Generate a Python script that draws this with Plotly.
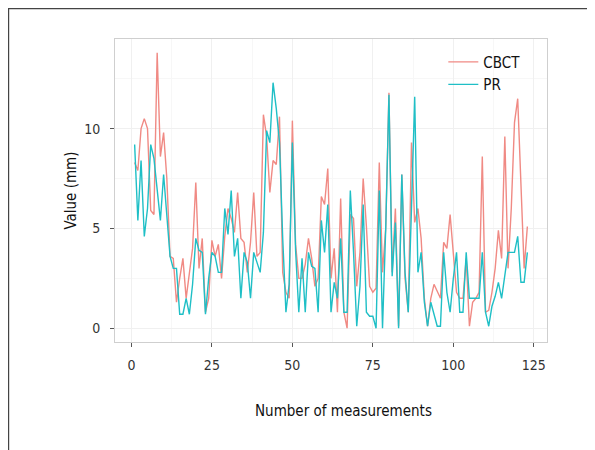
import plotly.graph_objects as go

measurement = list(range(1, 124))

cbct = [8.3, 7.9, 10.0, 10.5, 10.0, 5.9, 5.7, 13.8, 8.6, 9.8,
        7.5, 3.6, 3.5, 1.3, 2.5, 3.5, 1.5, 2.8, 4.0, 7.3,
        3.0, 4.5, 0.8, 1.5, 4.4, 3.6, 4.2, 2.5, 4.6, 6.0,
        5.5, 4.8, 6.8, 4.5, 4.3, 2.8, 4.3, 6.8, 3.6, 3.8,
        10.7, 9.6, 6.8, 8.4, 8.2, 10.6, 2.8, 1.8, 1.5, 10.4,
        4.2, 2.5, 2.5, 3.2, 4.5, 3.5, 2.1, 2.5, 6.6, 6.2,
        8.0, 2.5, 4.0, 0.8, 6.5, 0.8, 0.0, 5.7, 5.5, 2.1,
        3.8, 7.5, 5.1, 2.1, 1.8, 2.0, 8.3, 2.8, 5.0, 11.8,
        2.8, 6.0, 0.1, 7.7, 2.5, 0.8, 9.3, 5.3, 6.0, 4.5,
        1.5, 0.1, 1.5, 2.2, 1.8, 1.5, 4.3, 4.0, 5.7, 3.5,
        1.8, 1.5, 1.5, 3.5, 0.1, 1.3, 1.5, 1.8, 8.6, 0.8,
        0.9, 1.8, 3.0, 4.9, 3.5, 9.6, 3.0, 6.0, 10.3, 11.5,
        7.0, 3.0, 5.1]

pr = [9.2, 5.4, 8.4, 4.6, 6.0, 9.2, 8.5, 7.0, 5.4, 7.7,
      5.8, 3.6, 3.0, 3.0, 0.7, 0.7, 1.5, 0.7, 2.2, 4.5,
      3.9, 3.8, 0.7, 2.5, 3.8, 3.6, 2.8, 2.8, 6.0, 4.7,
      6.9, 3.6, 4.5, 1.5, 3.8, 3.3, 1.5, 3.8, 3.3, 2.8,
      4.8, 9.9, 9.3, 12.3, 11.0, 9.3, 4.5, 0.8, 2.2, 9.3,
      3.9, 0.8, 3.5, 0.8, 3.8, 3.1, 3.0, 0.8, 5.4, 3.8,
      6.2, 0.8, 2.3, 1.5, 4.5, 0.8, 0.8, 6.9, 3.8, 0.1,
      2.1, 6.2, 0.8, 0.6, 0.6, 0.0, 6.9, 0.0, 5.0, 11.7,
      2.6, 5.3, 0.0, 7.7, 2.8, 0.8, 6.0, 11.6, 2.8, 3.8,
      1.3, 0.1, 1.3, 0.7, 0.1, 0.1, 3.8, 1.8, 0.8, 2.5,
      3.8, 0.8, 0.8, 3.8, 1.5, 1.5, 1.5, 1.5, 3.8, 0.8,
      0.1, 1.1, 1.6, 2.3, 1.5, 2.8, 3.8, 3.8, 3.8, 4.6,
      2.3, 2.3, 3.8]

x_ticks = [0, 25, 50, 75, 100, 125]
y_ticks = [0, 5, 10]

FONT = "DejaVu Sans Condensed, Liberation Sans Narrow, Liberation Sans, sans-serif"

# the page body has an 8px margin, so the figure is 8px smaller than the window
W, H = 587, 442
L, R, T, B = 107, 48, 31, 108
PW, PH = W - L - R, H - T - B

fig = go.Figure()
fig.add_trace(go.Scatter(x=measurement, y=cbct, mode="lines", name="CBCT",
                         line=dict(color="#F08A84", width=1.4)))
fig.add_trace(go.Scatter(x=measurement, y=pr, mode="lines", name="PR",
                         line=dict(color="#1FBFC6", width=1.4)))

axis_common = dict(showline=True, mirror=True, linecolor="#cfcfcf", linewidth=1,
                   gridcolor="#f0f0f0", gridwidth=1, zeroline=False,
                   ticks="outside", ticklen=4, tickcolor="#555", tickwidth=1,
                   tickfont=dict(family=FONT, size=14, color="#333"))

fig.update_layout(
    width=W, height=H,
    margin=dict(l=L, r=R, t=T, b=B),
    paper_bgcolor="white", plot_bgcolor="white",
    font=dict(family=FONT, color="#222"),
    xaxis=dict(range=[-5.1, 129.1], tickvals=x_ticks,
               minor=dict(tickvals=[12.5, 37.5, 62.5, 87.5, 112.5], showgrid=True,
                          gridcolor="#f7f7f7", ticks=""),
               ticklabelstandoff=6,
               **axis_common),
    yaxis=dict(range=[-0.69, 14.49], tickvals=y_ticks,
               minor=dict(tickvals=[2.5, 7.5, 12.5], showgrid=True,
                          gridcolor="#f7f7f7", ticks=""),
               title=dict(text="Value (mm)", font=dict(family=FONT, size=15, color="#111"),
                          standoff=3),
               ticklabelstandoff=7,
               **axis_common),
    legend=dict(x=0.76, y=0.978, xanchor="left", yanchor="top",
                bgcolor="rgba(255,255,255,0)", font=dict(family=FONT, size=15, color="#111"),
                itemwidth=30, tracegroupgap=0),
    showlegend=True,
    annotations=[
        dict(text="Number of measurements", xref="paper", yref="paper",
             x=228 / PW, y=-69 / PH, xanchor="center", yanchor="middle",
             showarrow=False, font=dict(family=FONT, size=15, color="#111")),
    ],
    shapes=[
        dict(type="rect", xref="paper", yref="paper",
             x0=-(L - 0.6) / PW, x1=1.2, y0=-0.5, y1=1 + (T - 0.6) / PH,
             line=dict(color="#444", width=1.2), fillcolor="rgba(0,0,0,0)", layer="above"),
    ],
)

fig.write_html("out.html")
